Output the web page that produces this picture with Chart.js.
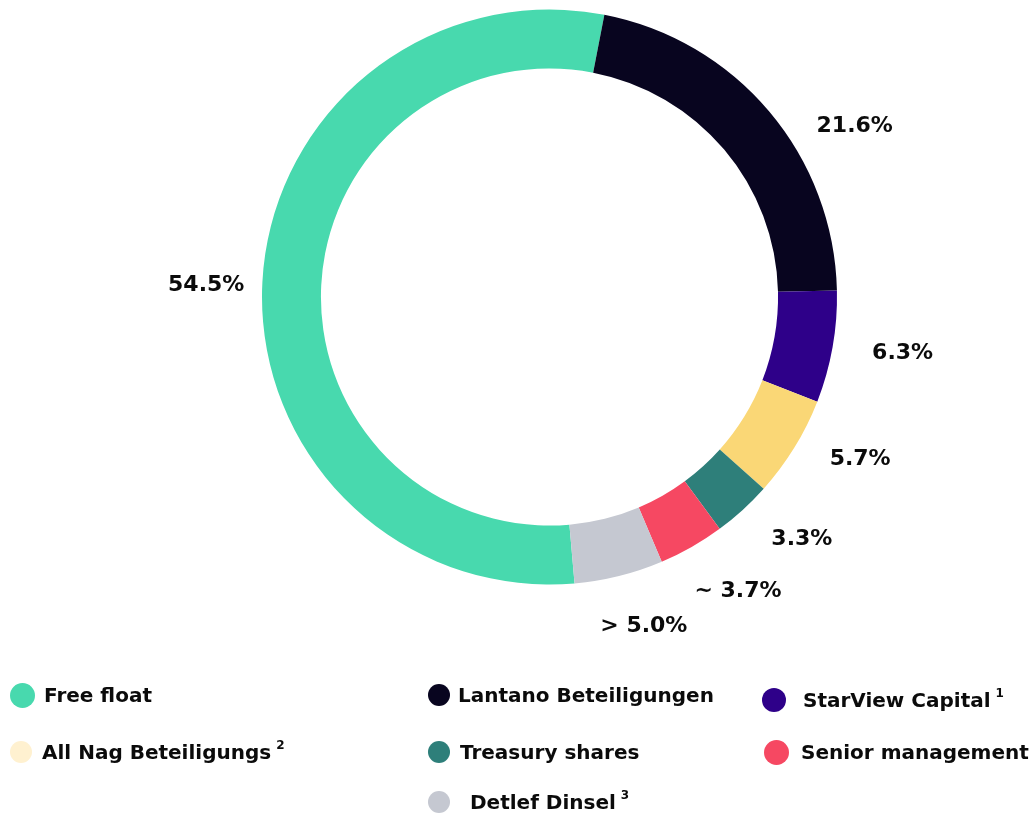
<!DOCTYPE html>
<html>
<head>
<meta charset="utf-8">
<script src="https://cdn.jsdelivr.net/npm/chart.js@4.4.1/dist/chart.umd.min.js"></script>
<style>
    html, body { margin: 0; padding: 0; background: #ffffff; }
    #wrap { position: relative; width: 1032px; height: 814px; overflow: hidden; }
    #chartBox { position: absolute; left: 0; top: 0; width: 1032px; height: 814px; }
    .legend-item {
        position: absolute;
        display: flex;
        align-items: center;
        font-family: "DejaVu Sans", sans-serif;
        font-weight: bold;
        font-size: 20px;
        color: #0b0b0b;
        white-space: nowrap;
    }
    .legend-dot { border-radius: 50%; flex: none; }
    .legend-item sup { font-size: 12px; position: relative; top: -2px; margin-left: 5px; }
</style>
</head>
<body>
<div id="wrap">
    <div id="chartBox"><canvas id="shareChart"></canvas></div>
</div>
<script>
// Aktionärsstruktur (in %)
const holders = ['Free float', 'Lantano Beteiligungen', 'StarView Capital', 'All Nag Beteiligungs',
    'Treasury shares', 'Senior management', 'Detlef Dinsel'];
const shares = [54.5, 21.6, 6.3, 5.7, 3.3, 3.7, 5.0];
const sharePrefix = ['', '', '', '', '', '~ ', '> '];
const footnotes = ['', '', '1', '2', '', '', '3'];

const sliceColors = ['#48d9ae', '#08051f', '#2e0089', '#fad776', '#2e7f7a', '#f64862', '#c5c8d1'];
const legendColors = ['#48d9ae', '#08051f', '#2e0089', '#fff1d0', '#2e7f7a', '#f64862', '#c5c8d1'];

// Etiketten: kleine Korrektur (Winkel in Grad, Abstand in px)
const labelShift = [-1, 11, -1, -4, -4, -3, -2];
const labelGap = [56, 62, 70, 63, 62, 62, 55];

// Legende: Position je Eintrag
const legendSlots = [
    { x: 10, y: 695, d: 25, gap: 9 },
    { x: 428, y: 695, d: 22, gap: 8 },
    { x: 762, y: 700, d: 24, gap: 17 },
    { x: 10, y: 752, d: 22, gap: 10 },
    { x: 428, y: 752, d: 22, gap: 10 },
    { x: 764, y: 752, d: 25, gap: 12 },
    { x: 428, y: 802, d: 22, gap: 20 }
];

const pctLabels = {
    id: 'pctLabels',
    afterDatasetsDraw(chart) {
        const ctx = chart.ctx;
        const arcs = chart.getDatasetMeta(0).data;
        ctx.save();
        ctx.font = 'bold 22px "DejaVu Sans", sans-serif';
        ctx.fillStyle = '#0b0b0b';
        ctx.textAlign = 'center';
        ctx.textBaseline = 'middle';
        arcs.forEach((arc, i) => {
            const p = arc.getProps(['x', 'y', 'startAngle', 'endAngle', 'outerRadius'], true);
            const a = (p.startAngle + p.endAngle) / 2 + labelShift[i] * Math.PI / 180;
            const r = p.outerRadius + labelGap[i];
            const txt = sharePrefix[i] + shares[i].toFixed(1) + '%';
            ctx.fillText(txt, p.x + Math.cos(a) * r, p.y + Math.sin(a) * r);
        });
        ctx.restore();
    }
};

const chart = new Chart(document.getElementById('shareChart'), {
    type: 'doughnut',
    data: {
        labels: holders,
        datasets: [{
            data: shares,
            backgroundColor: sliceColors,
            borderWidth: 0,
            hoverOffset: 0
        }]
    },
    options: {
        responsive: true,
        maintainAspectRatio: false,
        animation: false,
        rotation: 175,
        cutout: '79.5%',
        layout: {
            padding: { left: 262, right: 195, top: 9.5, bottom: 229.5 }
        },
        plugins: {
            legend: { display: false },
            tooltip: { enabled: false }
        }
    },
    plugins: [pctLabels]
});

// HTML-Legende
const wrap = document.getElementById('wrap');
holders.forEach((name, i) => {
    const s = legendSlots[i];
    const item = document.createElement('div');
    item.className = 'legend-item';
    item.style.left = s.x + 'px';
    item.style.top = (s.y - 14) + 'px';
    item.style.height = '28px';
    const dot = document.createElement('span');
    dot.className = 'legend-dot';
    dot.style.width = s.d + 'px';
    dot.style.height = s.d + 'px';
    dot.style.background = legendColors[i];
    dot.style.marginRight = s.gap + 'px';
    item.appendChild(dot);
    const txt = document.createElement('span');
    txt.textContent = name;
    if (footnotes[i]) {
        const sup = document.createElement('sup');
        sup.textContent = footnotes[i];
        txt.appendChild(sup);
    }
    item.appendChild(txt);
    wrap.appendChild(item);
});
</script>
</body>
</html>
